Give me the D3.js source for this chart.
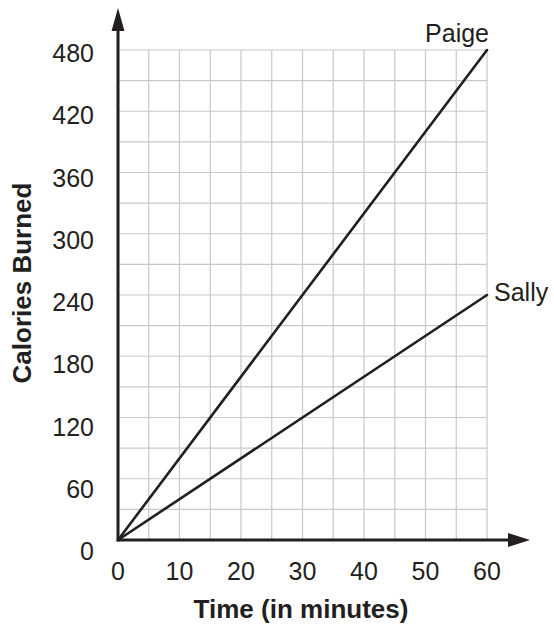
<!DOCTYPE html>
<html>
<head>
<meta charset="utf-8">
<script src="https://cdn.jsdelivr.net/npm/d3@7"></script>
<style>
  html, body { margin: 0; padding: 0; background: #fff; }
  svg { display: block; font-family: "Liberation Sans", Arial, Helvetica, sans-serif; }
</style>
</head>
<body>
<svg id="chart" width="554" height="628"></svg>
<script>
/* ── Data ─────────────────────────────────────────────────────── */
const minutes   = [0, 60];
const paigeCal  = [0, 480];
const sallyCal  = [0, 240];
const xTicks    = [0, 10, 20, 30, 40, 50, 60];
const yTicks    = [0, 60, 120, 180, 240, 300, 360, 420, 480];
const xGrid     = [5, 10, 15, 20, 25, 30, 35, 40, 45, 50, 55, 60];
const yGrid     = [30, 60, 90, 120, 150, 180, 210, 240, 270, 300, 330, 360, 390, 420, 450, 480];

const series = [
  { name: "Paige", values: paigeCal },
  { name: "Sally", values: sallyCal }
];

/* ── Scales ───────────────────────────────────────────────────── */
const ink = "#231f20";
const x = d3.scaleLinear().domain([0, 60]).range([118, 487]);
const y = d3.scaleLinear().domain([0, 480]).range([540, 50]);
// tick labels in the source sit a little lower than their grid lines
const yLab = d3.scaleLinear().domain([0, 480]).range([551, 53]);

const svg = d3.select("#chart");

/* ── Grid ─────────────────────────────────────────────────────── */
const grid = svg.append("g").attr("stroke", "#c8c8c8").attr("stroke-width", 1.2);
grid.selectAll("line.v").data(xGrid).join("line").attr("class", "v")
  .attr("x1", d => x(d)).attr("x2", d => x(d))
  .attr("y1", y(0)).attr("y2", y(480));
grid.selectAll("line.h").data(yGrid).join("line").attr("class", "h")
  .attr("x1", x(0)).attr("x2", x(60))
  .attr("y1", d => y(d)).attr("y2", d => y(d));

/* ── Axes with arrows ─────────────────────────────────────────── */
svg.append("line")
  .attr("x1", x(0)).attr("x2", 512).attr("y1", y(0)).attr("y2", y(0))
  .attr("stroke", ink).attr("stroke-width", 3);
svg.append("path")
  .attr("d", `M530,${y(0)} L508,${y(0) - 7} L508,${y(0) + 7} Z`)
  .attr("fill", ink);
svg.append("line")
  .attr("x1", x(0)).attr("x2", x(0)).attr("y1", y(0) + 1.5).attr("y2", 28)
  .attr("stroke", ink).attr("stroke-width", 3);
svg.append("path")
  .attr("d", `M${x(0)},8 L${x(0) - 6.5},31 L${x(0) + 6.5},31 Z`)
  .attr("fill", ink);

/* ── Tick labels ──────────────────────────────────────────────── */
svg.append("g").selectAll("text").data(xTicks).join("text")
  .attr("x", d => x(d)).attr("y", 580)
  .attr("text-anchor", "middle")
  .attr("font-size", 25).attr("fill", ink)
  .text(d => d);

svg.append("g").selectAll("text").data(yTicks).join("text")
  .attr("x", 94).attr("y", d => yLab(d) + 9)
  .attr("text-anchor", "end")
  .attr("font-size", 25).attr("fill", ink)
  .text(d => d);

/* ── Lines ────────────────────────────────────────────────────── */
const line = d3.line()
  .x((d, i) => x(minutes[i]))
  .y(d => y(d));

svg.append("g").selectAll("path").data(series).join("path")
  .attr("d", d => line(d.values))
  .attr("fill", "none").attr("stroke", ink)
  .attr("stroke-width", 2.6).attr("stroke-linecap", "round");

// series labels
svg.append("text")
  .attr("x", x(60) + 2).attr("y", y(paigeCal[1]) - 8)
  .attr("text-anchor", "end").attr("font-size", 25).attr("fill", ink)
  .text(series[0].name);
svg.append("text")
  .attr("x", x(60) + 7).attr("y", y(sallyCal[1]) + 6)
  .attr("text-anchor", "start").attr("font-size", 25).attr("fill", ink)
  .text(series[1].name);

/* ── Axis titles ──────────────────────────────────────────────── */
svg.append("text")
  .attr("x", 301).attr("y", 618)
  .attr("text-anchor", "middle")
  .attr("font-size", 26).attr("font-weight", "bold").attr("fill", ink)
  .text("Time (in minutes)");

svg.append("text")
  .attr("transform", "translate(31,283) rotate(-90)")
  .attr("text-anchor", "middle")
  .attr("font-size", 26).attr("font-weight", "bold").attr("fill", ink)
  .text("Calories Burned");
</script>
</body>
</html>
